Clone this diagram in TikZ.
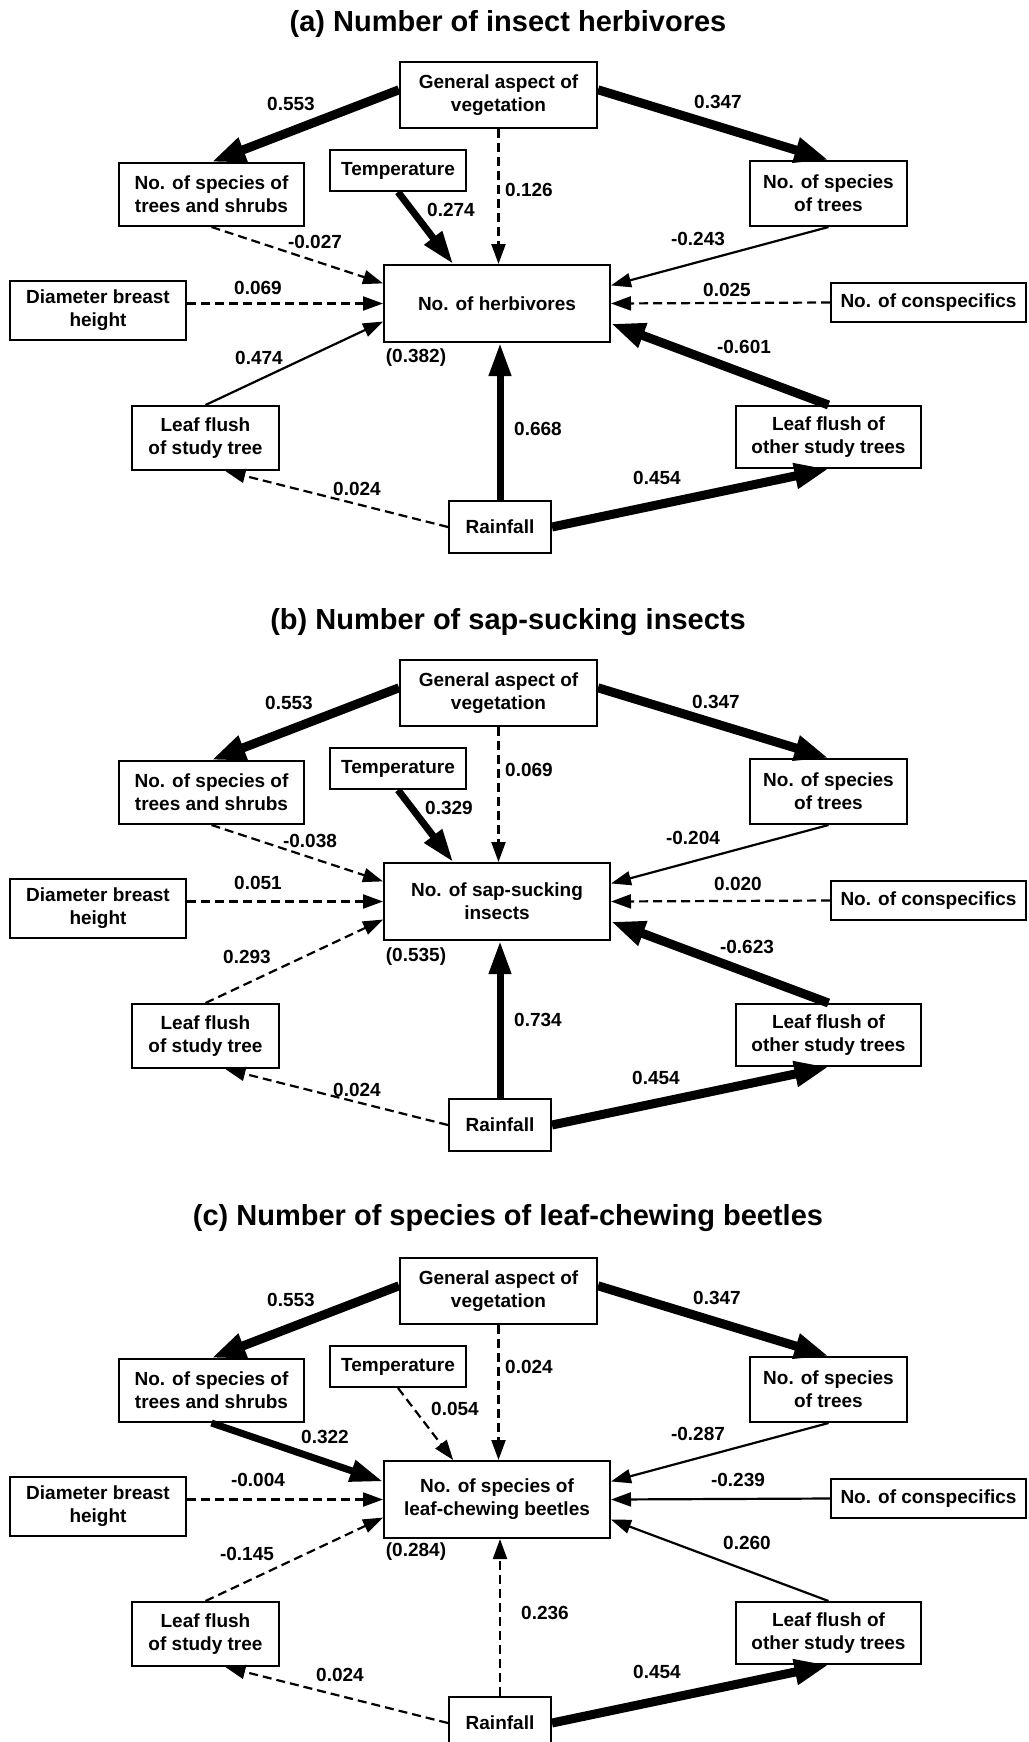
\documentclass[tikz,border=0pt]{standalone}
\usepackage{fontspec}
\setmainfont{Liberation Sans}
\usetikzlibrary{arrows.meta}
% the ten boxes that every panel shares; #1 is the response box
\newcommand\boxlayout[1]{%
\node[box, minimum width=197pt, minimum height=66pt] (gen) at (498.5,95) {General aspect of\\vegetation};
\node[box, minimum width=185pt, minimum height=63pt] (ts) at (211.5,194.5) {No. of species of\\trees and shrubs};
\node[box, minimum width=136pt, minimum height=41pt] (temp) at (398,170.5) {Temperature};
\node[box, minimum width=157pt, minimum height=65pt] (tr) at (828.5,193.5) {No. of species\\of trees};
\node[box, minimum width=226pt, minimum height=77pt] (resp) at (497,303.5) {#1};
\node[box, minimum width=176pt, minimum height=59pt] (dbh) at (98,310.5) {Diameter breast\\height};
\node[box, minimum width=195pt, minimum height=39pt] (con) at (928.5,302.5) {No. of conspecifics};
\node[box, minimum width=147pt, minimum height=64pt] (lfs) at (205.5,438) {Leaf flush\\of study tree};
\node[box, minimum width=185pt, minimum height=62pt] (lfo) at (828.5,437) {Leaf flush of\\other study trees};
\node[box, minimum width=102pt, minimum height=52pt] (rain) at (500,527) {Rainfall};}
\begin{document}
\begin{tikzpicture}[x=1pt, y=-1pt,
  box/.style={draw, line width=2pt, align=center, inner sep=2pt,
    font=\fontsize{19}{23}\selectfont\bfseries},
  coef/.style={font=\fontsize{19}{23}\selectfont\bfseries, inner sep=1pt},
  ttl/.style={font=\fontsize{29}{34}\selectfont\bfseries},
  arr/.style={-{Triangle[length=20pt, width=14pt]}, line width=2.2pt},
  darr/.style={arr, dash pattern=on 9pt off 5pt},
  marr/.style={-{Triangle[length=33pt, width=21pt]}, line width=7pt},
  farr/.style={-{Triangle[length=34pt, width=24pt]}, line width=9pt}]
\useasboundingbox (0,0) rectangle (1028,1742);
% (a) insect herbivores
\begin{scope}[name prefix=a-]
\node[ttl] (title) at (508,24) {(a) Number of insect herbivores};
\boxlayout{No. of herbivores}
\node[coef] (r2) at (416,358) {(0.382)};
\draw[farr] (gen.177) -- (ts.north) node[coef] at (291,104) {0.553};
\draw[farr] (gen.3) -- (tr.north) node[coef] at (718,102) {0.347};
\draw[darr] (gen.south) -- (gen.south |- resp.north) node[coef] at (529,190) {0.126};
\draw[marr] (temp.south) -- (resp.138) node[coef] at (451,210) {0.274};
\draw[darr] (ts.south) -- (resp.170) node[coef] at (315,242) {-0.027};
\draw[arr] (tr.south) -- (resp.9) node[coef] at (698,239) {-0.243};
\draw[darr] (dbh.east |- resp.west) -- (resp.west) node[coef] at (258,288) {0.069};
\draw[darr] (con.west) -- (resp.east) node[coef] at (727,290) {0.025};
\draw[arr] (lfs.north) -- (resp.-171) node[coef] at (259,358) {0.474};
\draw[farr] (lfo.north) -- (resp.-10) node[coef] at (744,347) {-0.601};
\draw[marr] (rain.north) -- (rain.north |- resp.south) node[coef] at (538,429) {0.668};
\draw[darr] (rain.west) -- (lfs.-59) node[coef] at (357,489) {0.024};
\draw[farr] (rain.east) -- (lfo.south) node[coef] at (657,478) {0.454};
\end{scope}
% (b) sap-sucking insects
\begin{scope}[yshift=-598pt, name prefix=b-]
\node[ttl] (title) at (508,24) {(b) Number of sap-sucking insects};
\boxlayout{No. of sap-sucking\\insects}
\node[coef] (r2) at (416,359) {(0.535)};
\draw[farr] (gen.177) -- (ts.north) node[coef] at (289,105) {0.553};
\draw[farr] (gen.3) -- (tr.north) node[coef] at (716,104) {0.347};
\draw[darr] (gen.south) -- (gen.south |- resp.north) node[coef] at (529,172) {0.069};
\draw[marr] (temp.south) -- (resp.138) node[coef] at (449,210) {0.329};
\draw[darr] (ts.south) -- (resp.170) node[coef] at (310,243) {-0.038};
\draw[arr] (tr.south) -- (resp.9) node[coef] at (693,240) {-0.204};
\draw[darr] (dbh.east |- resp.west) -- (resp.west) node[coef] at (258,285) {0.051};
\draw[darr] (con.west) -- (resp.east) node[coef] at (738,286) {0.020};
\draw[darr] (lfs.north) -- (resp.-171) node[coef] at (247,359) {0.293};
\draw[farr] (lfo.north) -- (resp.-10) node[coef] at (747,349) {-0.623};
\draw[marr] (rain.north) -- (rain.north |- resp.south) node[coef] at (538,422) {0.734};
\draw[darr] (rain.west) -- (lfs.-59) node[coef] at (357,492) {0.024};
\draw[farr] (rain.east) -- (lfo.south) node[coef] at (656,480) {0.454};
\end{scope}
% (c) leaf-chewing beetles
\begin{scope}[yshift=-1196pt, name prefix=c-]
\node[ttl] (title) at (508,22) {(c) Number of species of leaf-chewing beetles};
\boxlayout{No. of species of\\leaf-chewing beetles}
\node[coef] (r2) at (416,356) {(0.284)};
\draw[farr] (gen.177) -- (ts.north) node[coef] at (291,104) {0.553};
\draw[farr] (gen.3) -- (tr.north) node[coef] at (717,102) {0.347};
\draw[darr] (gen.south) -- (gen.south |- resp.north) node[coef] at (529,171) {0.024};
\draw[darr] (temp.south) -- (resp.138) node[coef] at (455,213) {0.054};
\draw[marr] (ts.south) -- (resp.171) node[coef] at (325,241) {0.322};
\draw[arr] (tr.south) -- (resp.9) node[coef] at (698,238) {-0.287};
\draw[darr] (dbh.east |- resp.west) -- (resp.west) node[coef] at (258,284) {-0.004};
\draw[arr] (con.west) -- (resp.east) node[coef] at (738,284) {-0.239};
\draw[darr] (lfs.north) -- (resp.-171) node[coef] at (247,358) {-0.145};
\draw[arr] (lfo.north) -- (resp.-10) node[coef] at (747,347) {0.260};
\draw[darr] (rain.north) -- (rain.north |- resp.south) node[coef] at (545,417) {0.236};
\draw[darr] (rain.west) -- (lfs.-59) node[coef] at (340,479) {0.024};
\draw[farr] (rain.east) -- (lfo.south) node[coef] at (657,476) {0.454};
\end{scope}
\end{tikzpicture}
\end{document}
